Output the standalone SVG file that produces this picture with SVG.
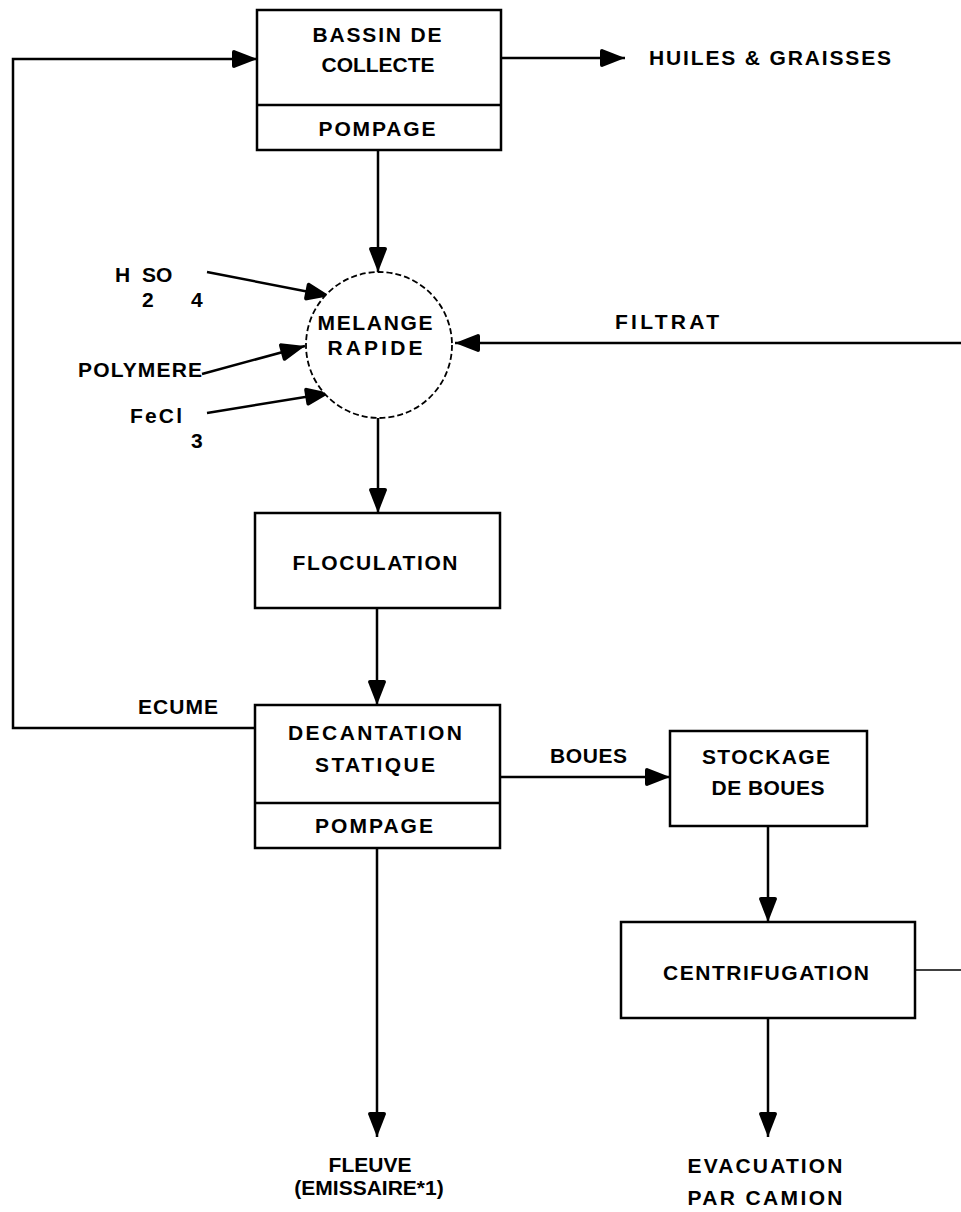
<svg xmlns="http://www.w3.org/2000/svg" width="961" height="1212" viewBox="0 0 961 1212">
  <style>
    .bg { fill: #ffffff; }
    .box { fill: #ffffff; stroke: #000; stroke-width: 2.5; }
    .sep { stroke: #000; stroke-width: 2.5; fill: none; }
    .ring { fill: #ffffff; stroke: #000; stroke-width: 1.8; stroke-dasharray: 6 3; }
    .flow { fill: none; stroke: #000; stroke-width: 2.5; }
    .thin { fill: none; stroke: #000; stroke-width: 1.5; }
    text { font-family: "Liberation Sans", Arial, sans-serif; font-size: 21px; font-weight: bold; fill: #000; }
    .c { text-anchor: middle; }
  </style>
  <defs>
    <!-- solid arrowhead, tip at the path end -->
    <marker id="ah" viewBox="-26 -11 27 22" refX="0" refY="0" markerWidth="27" markerHeight="22" orient="auto" markerUnits="userSpaceOnUse">
      <path d="M0,0 L-23,-9 Q-25,-9 -25,-7 L-25,7 Q-25,9 -23,9 Z" fill="#000"/>
    </marker>
  </defs>
  <rect class="bg" x="0" y="0" width="961" height="1212"/>

  <!-- process flow lines -->
  <g id="connectors">
    <path class="flow" d="M255,728 H13 V59 H257" marker-end="url(#ah)"/>
    <path class="flow" d="M501,58 H625" marker-end="url(#ah)"/>
    <path class="flow" d="M378,150 V272" marker-end="url(#ah)"/>
    <path class="flow" d="M207,272 L330,296" marker-end="url(#ah)"/>
    <path class="flow" d="M202,374 L305,346" marker-end="url(#ah)"/>
    <path class="flow" d="M207,413 L330,393" marker-end="url(#ah)"/>
    <path class="flow" d="M961,343 H455" marker-end="url(#ah)"/>
    <path class="flow" d="M378,418 V513" marker-end="url(#ah)"/>
    <path class="flow" d="M377,608 V705" marker-end="url(#ah)"/>
    <path class="flow" d="M500,777 H670" marker-end="url(#ah)"/>
    <path class="flow" d="M768,826 V922" marker-end="url(#ah)"/>
    <path class="thin" d="M915,970 H961"/>
    <path class="flow" d="M377,848 V1137" marker-end="url(#ah)"/>
    <path class="flow" d="M768,1018 V1137" marker-end="url(#ah)"/>
  </g>

  <g id="bassin">
    <rect class="box" x="257" y="10" width="244" height="140"/>
    <line class="sep" x1="257" y1="105" x2="501" y2="105"/>
    <text class="c" x="377" y="42" textLength="129">BASSIN DE</text>
    <text class="c" x="378" y="72" textLength="113">COLLECTE</text>
    <text class="c" x="377" y="136" textLength="117">POMPAGE</text>
  </g>

  <g id="huiles">
    <text x="649" y="65" textLength="242">HUILES &amp; GRAISSES</text>
  </g>

  <g id="melange">
    <circle class="ring" cx="379" cy="345" r="73"/>
    <text class="c" x="375" y="330" textLength="115">MELANGE</text>
    <text class="c" x="375" y="355" textLength="95">RAPIDE</text>
  </g>

  <g id="h2so4">
    <text y="282"><tspan x="115">H</tspan><tspan x="142">SO</tspan></text>
    <text y="307"><tspan x="142">2</tspan><tspan x="191">4</tspan></text>
  </g>

  <g id="polymere">
    <text x="78" y="377" textLength="124">POLYMERE</text>
  </g>

  <g id="fecl3">
    <text x="130" y="423" textLength="52">FeCl</text>
    <text x="191" y="448">3</text>
  </g>

  <g id="filtrat">
    <text x="615" y="329" textLength="104">FILTRAT</text>
  </g>

  <g id="floculation">
    <rect class="box" x="255" y="513" width="245" height="95"/>
    <text class="c" x="375" y="570" textLength="165">FLOCULATION</text>
  </g>

  <g id="ecume">
    <text x="138" y="714" textLength="80">ECUME</text>
  </g>

  <g id="decantation">
    <rect class="box" x="255" y="705" width="245" height="143"/>
    <line class="sep" x1="255" y1="803" x2="500" y2="803"/>
    <text class="c" x="375" y="740" textLength="174">DECANTATION</text>
    <text class="c" x="375" y="772" textLength="120">STATIQUE</text>
    <text class="c" x="374" y="833" textLength="118">POMPAGE</text>
  </g>

  <g id="boues">
    <text x="550" y="763" textLength="77">BOUES</text>
  </g>

  <g id="stockage">
    <rect class="box" x="670" y="731" width="197" height="95"/>
    <text class="c" x="766" y="764" textLength="128">STOCKAGE</text>
    <text class="c" x="768" y="795" textLength="113">DE BOUES</text>
  </g>

  <g id="centrifugation">
    <rect class="box" x="621" y="922" width="294" height="96"/>
    <text class="c" x="766" y="980" textLength="206">CENTRIFUGATION</text>
  </g>

  <g id="fleuve">
    <text class="c" x="370" y="1172">FLEUVE</text>
    <text class="c" x="369" y="1195">(EMISSAIRE*1)</text>
  </g>

  <g id="evacuation">
    <text class="c" x="765" y="1173" textLength="155">EVACUATION</text>
    <text class="c" x="765" y="1205" textLength="155">PAR CAMION</text>
  </g>
</svg>
